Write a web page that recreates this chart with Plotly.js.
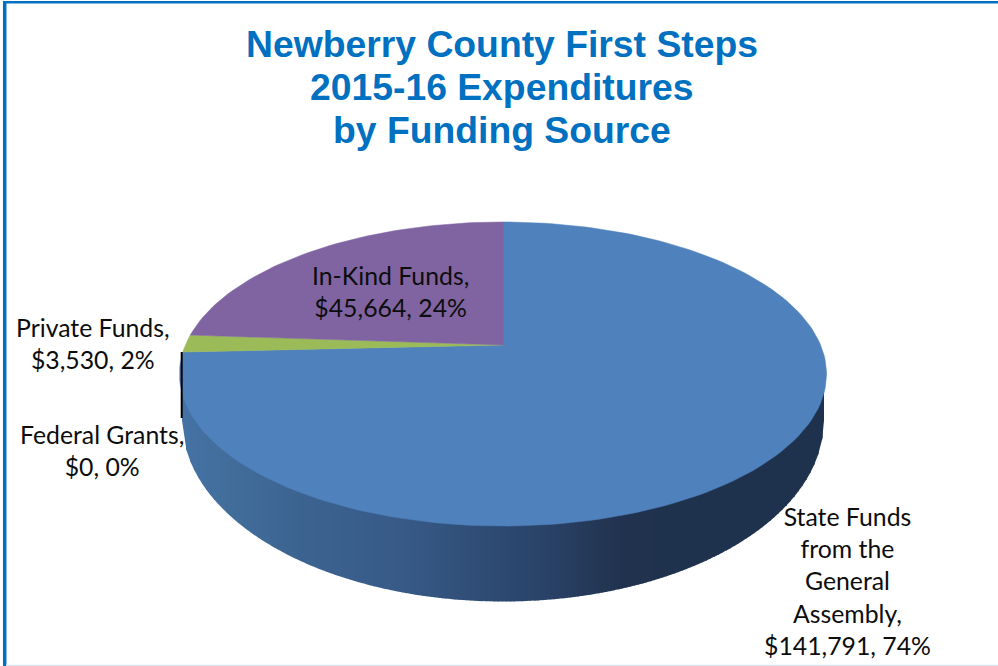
<!DOCTYPE html>
<html>
<head>
<meta charset="utf-8">
<script src="https://cdn.plot.ly/plotly-3.0.1.min.js"></script>
<style>html,body{margin:0;padding:0;background:#fff}#chart{width:998px;height:666px}</style>
</head>
<body>
<div id="chart"></div>
<script>
var categories = ["State Funds from the General Assembly", "Federal Grants", "Private Funds", "In-Kind Funds"];
var values = [141791, 0, 3530, 45664];
var colors = ["#4f81bd", "#c0504d", "#9bbb59", "#8064a2"];
var titleLines = ["Newberry County First Steps", "2015-16 Expenditures", "by Funding Source"];
var labelTexts = [
  "State Funds<br>from the<br>General<br>Assembly,<br>$141,791, 74%",
  "Federal Grants,<br>$0, 0%",
  "Private Funds,<br>$3,530, 2%",
  "In-Kind Funds,<br>$45,664, 24%"
];
var labelX = [847, 102, 93, 390];
var labelY = [581, 450, 343, 291];

// tilted-disc projection of the pie (units are the hidden axes' own)
var apexX = 503, apexY = 345, radiusX = 317.6, radiusY = 146.5, tilt = 0.1908;
function rim(frac) {
  var t = 2 * Math.PI * frac, d = 1 + tilt * Math.cos(t);
  return [apexX + radiusX * Math.sin(t) / d, apexY - radiusY * Math.cos(t) / d];
}

var total = values.reduce(function (a, b) { return a + b; }, 0);
var traces = [], cum = 0;
values.forEach(function (v, i) {
  var xs = [apexX], ys = [apexY], f0 = cum / total, f1 = (cum + v) / total;
  var n = Math.max(1, Math.ceil((f1 - f0) * 240));
  for (var k = 0; k <= n; k++) {
    var p = rim(f0 + (f1 - f0) * k / n);
    xs.push(p[0]); ys.push(p[1]);
  }
  xs.push(apexX); ys.push(apexY);
  cum += v;
  traces.push({
    type: "scatter", mode: "lines", name: categories[i], x: xs, y: ys,
    fill: "toself", fillcolor: colors[i],
    line: { color: colors[i], width: v > 0 ? 0.5 : 0 },
    hoverinfo: "skip", showlegend: false
  });
});

// shaded side wall
var wallCx = 503, wallCy = 420.5, wallRx = 321, wallRy = 181, wallTop = 374;
var wallStopsX = [182, 220, 300, 400, 500, 560, 620, 680, 825];
var wallStopsR = [68, 66, 60, 55, 44, 40, 32, 31, 31];
var wallStopsG = [114, 110, 99, 90, 73, 63, 50, 50, 50];
var wallStopsB = [165, 156, 144, 135, 113, 98, 78, 77, 77];
function interp(x, arr) {
  for (var i = 1; i < wallStopsX.length; i++) {
    if (x <= wallStopsX[i]) {
      var u = (x - wallStopsX[i - 1]) / (wallStopsX[i] - wallStopsX[i - 1]);
      return Math.round(arr[i - 1] + (arr[i] - arr[i - 1]) * Math.max(0, u));
    }
  }
  return arr[arr.length - 1];
}
function wallBottom(x) {
  var u = (x - wallCx) / wallRx;
  return wallCy + wallRy * Math.sqrt(Math.max(0, 1 - u * u));
}
var shapes = [];
for (var x = 182; x < 824; x += 4) {
  var x2 = Math.min(x + 4, 824), x3 = Math.min(x2 + 0.6, 824);
  shapes.push({
    type: "path", layer: "below", xref: "x", yref: "y",
    path: "M" + x + " " + wallTop + " L" + x + " " + wallBottom(x) +
      " L" + x3 + " " + wallBottom(x3) + " L" + x3 + " " + wallTop + " Z",
    fillcolor: "rgb(" + interp(x, wallStopsR) + "," + interp(x, wallStopsG) + "," + interp(x, wallStopsB) + ")",
    line: { width: 0 }
  });
}
// leader line, frame
shapes.push({ type: "line", layer: "above", xref: "x", yref: "y", x0: 181.7, x1: 181.7, y0: 352, y1: 418, line: { color: "#000", width: 2 } });
shapes.push({ type: "line", layer: "above", xref: "x", yref: "y", x0: 4.7, x1: 4.7, y0: 1, y1: 666, line: { color: "#0070c0", width: 3.5 } });
shapes.push({ type: "line", layer: "above", xref: "x", yref: "y", x0: 3, x1: 998, y0: 2.3, y1: 2.3, line: { color: "#0070c0", width: 2.6 } });
shapes.push({ type: "line", layer: "above", xref: "x", yref: "y", x0: 6, x1: 998, y0: 665.4, y1: 665.4, line: { color: "#dce6f1", width: 1.2 } });

var annotations = labelTexts.map(function (t, i) {
  return {
    xref: "x", yref: "y", x: labelX[i], y: labelY[i], text: t, showarrow: false,
    xanchor: "center", yanchor: "middle", align: "center",
    font: { family: "Lato, 'Open Sans', sans-serif", size: 24.8, color: "#0d0d0d" }
  };
});
var titleFont = { family: "'Liberation Sans', Arial, sans-serif", size: 37.3, color: "#0070c0" };
[87, 130].forEach(function (y, i) {
  annotations.push({
    xref: "x", yref: "y", x: 502, y: y, text: "<b>" + titleLines[i + 1] + "</b>",
    showarrow: false, xanchor: "center", yanchor: "middle", font: titleFont
  });
});

var layout = {
  width: 998, height: 666,
  margin: { l: 0, r: 0, t: 0, b: 0, pad: 0 },
  paper_bgcolor: "#fff", plot_bgcolor: "#fff",
  title: { text: "<b>" + titleLines[0] + "</b>", font: titleFont, x: 502 / 998, xanchor: "center", xref: "paper", y: 1 - 44 / 666, yanchor: "middle", yref: "paper" },
  xaxis: { range: [0, 998], visible: false, fixedrange: true },
  yaxis: { range: [666, 0], visible: false, fixedrange: true },
  showlegend: false, hovermode: false,
  shapes: shapes, annotations: annotations
};
Plotly.newPlot("chart", traces, layout, { displayModeBar: false, staticPlot: true });
</script>
</body>
</html>
